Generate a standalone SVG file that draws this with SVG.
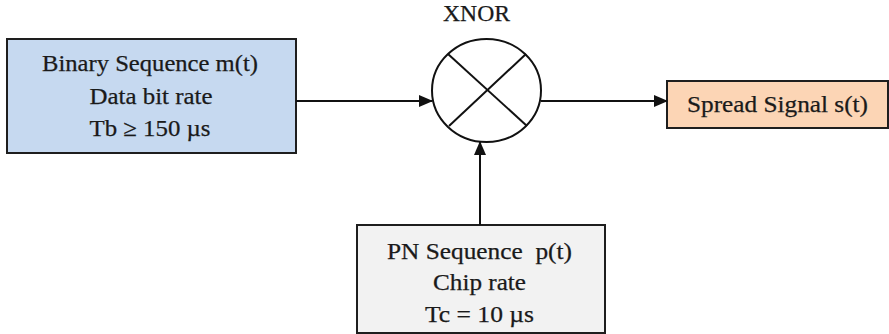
<svg xmlns="http://www.w3.org/2000/svg" width="889" height="334" viewBox="0 0 889 334">
<style>
.box{stroke:#1e1e1e;stroke-width:2}
.t{font-family:"Liberation Serif","Times New Roman",serif;font-size:23px;fill:#1a1a1a;text-anchor:middle;stroke:#1a1a1a;stroke-width:0.25}
.ln{stroke:#111;stroke-width:2;fill:none}
</style>
<defs>
<marker id="ah" markerWidth="14" markerHeight="12" refX="13" refY="6" orient="auto" markerUnits="userSpaceOnUse">
<path d="M0,0 L14,6 L0,12 Z" fill="#111"/>
</marker>
</defs>
<rect width="889" height="334" fill="#ffffff"/>
<g id="binary">
<rect class="box" x="7" y="39" width="289" height="114" fill="#c6d9f0"/>
<text class="t" x="150" y="71" textLength="216" lengthAdjust="spacingAndGlyphs">Binary Sequence m(t)</text>
<text class="t" x="151" y="104" textLength="123" lengthAdjust="spacingAndGlyphs">Data bit rate</text>
<text class="t" x="150" y="136" textLength="121" lengthAdjust="spacingAndGlyphs">Tb ≥ 150 µs</text>
</g>
<g id="xnor">
<text class="t" x="476.5" y="21" font-size="20" textLength="67" lengthAdjust="spacingAndGlyphs">XNOR</text>
<ellipse class="ln" cx="486.5" cy="90.5" rx="54.5" ry="51.5"/>
<line class="ln" x1="448" y1="54" x2="527" y2="126"/>
<line class="ln" x1="526" y1="54" x2="449" y2="126"/>
</g>
<g id="spread">
<rect class="box" x="667" y="81" width="221" height="47" fill="#fcd5b5"/>
<text class="t" x="777.5" y="112" textLength="181" lengthAdjust="spacingAndGlyphs">Spread Signal s(t)</text>
</g>
<g id="pn">
<rect class="box" x="357" y="225" width="248" height="108" fill="#f2f2f2"/>
<text class="t" x="479.5" y="259" textLength="185" lengthAdjust="spacingAndGlyphs" xml:space="preserve">PN Sequence  p(t)</text>
<text class="t" x="479.5" y="290" textLength="93" lengthAdjust="spacingAndGlyphs">Chip rate</text>
<text class="t" x="479.5" y="322" textLength="109" lengthAdjust="spacingAndGlyphs">Tc = 10 µs</text>
</g>
<g id="connectors">
<line class="ln" x1="296" y1="101" x2="432" y2="101" marker-end="url(#ah)"/>
<line class="ln" x1="541" y1="101" x2="667" y2="101" marker-end="url(#ah)"/>
<line class="ln" x1="480" y1="225" x2="480" y2="142" marker-end="url(#ah)"/>
</g>
</svg>
